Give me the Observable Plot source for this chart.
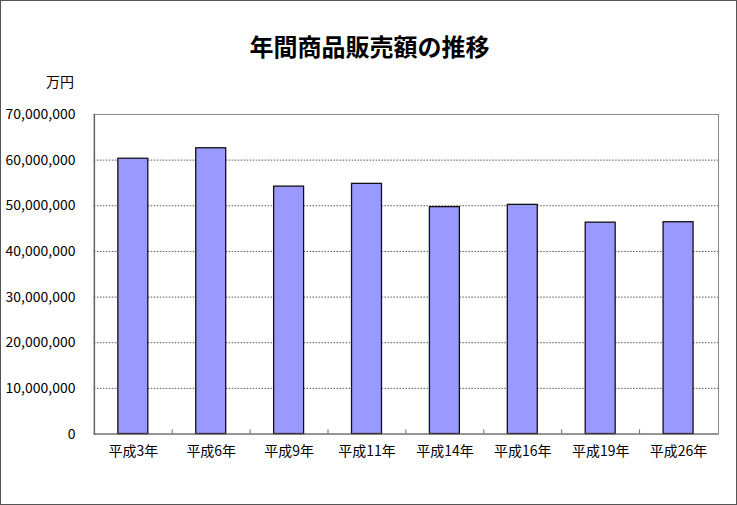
<!DOCTYPE html>
<html><head><meta charset="utf-8">
<script src="https://cdn.jsdelivr.net/npm/d3@7"></script>
<script src="https://cdn.jsdelivr.net/npm/@observablehq/plot@0.6"></script>
<style>
body{margin:0;background:#fff;font-family:"Noto Sans CJK JP",sans-serif;}
#wrap{position:relative;width:737px;height:505px;box-sizing:border-box;border:1px solid #555;overflow:hidden;}
#title{position:absolute;left:0;top:29px;width:737px;text-align:center;font-size:24px;font-weight:bold;color:#000;line-height:32px;}
#unit{position:absolute;left:45px;top:70px;font-size:14px;color:#000;line-height:20px;}
#chart{position:absolute;left:-1px;top:94px;}
</style></head>
<body><div id="wrap"><div id="title">年間商品販売額の推移</div><div id="unit">万円</div><div id="chart"></div></div>
<script>
const categories = ["平成3年","平成6年","平成9年","平成11年","平成14年","平成16年","平成19年","平成26年"];
const sales = [60300000, 62600000, 54200000, 54800000, 49700000, 50200000, 46300000, 46400000];
const yTicks = [0,10000000,20000000,30000000,40000000,50000000,60000000,70000000];
const gridTicks = [10000000,20000000,30000000,40000000,50000000,60000000];

const data = categories.map((c,i)=>({cat:c, v:sales[i]}));
const W = 737, H = 411, ML = 94, MR = 18, MT = 19, MB = 72;
const step = (W - ML - MR) / categories.length;
const fmt = d3.format(",");
const plot = Plot.plot({
  width: W, height: H,
  marginLeft: ML, marginRight: MR, marginTop: MT, marginBottom: MB,
  style: {fontFamily: '"Noto Sans CJK JP", sans-serif', fontSize: "14px", color: "#000", background: "transparent"},
  x: {domain: categories, paddingInner: 0.61, paddingOuter: 0.305, label: null, tickSize: 0, tickPadding: 12},
  y: {domain: [0, 70000000], ticks: yTicks, tickFormat: fmt, label: null, tickSize: 0, tickPadding: 19},
  marks: [
    Plot.frame({stroke: "#888", strokeWidth: 1}),
    Plot.ruleY(gridTicks, {stroke: "#555", strokeDasharray: "1.5,1.5", strokeWidth: 1}),
    Plot.ruleX(categories.slice(1), {x: d => d, dx: -step/2, y1: 0, y2: 900000, stroke: "#666"}),
    Plot.barY(data, {x: "cat", y: "v", fill: "#9999ff", stroke: "#111", strokeWidth: 1.3}),
    Plot.frame({anchor: "left", stroke: "#666", strokeWidth: 1.5}),
    Plot.ruleY([0], {stroke: "#666", strokeWidth: 1})
  ]
});
document.getElementById("chart").appendChild(plot);
</script></body></html>
